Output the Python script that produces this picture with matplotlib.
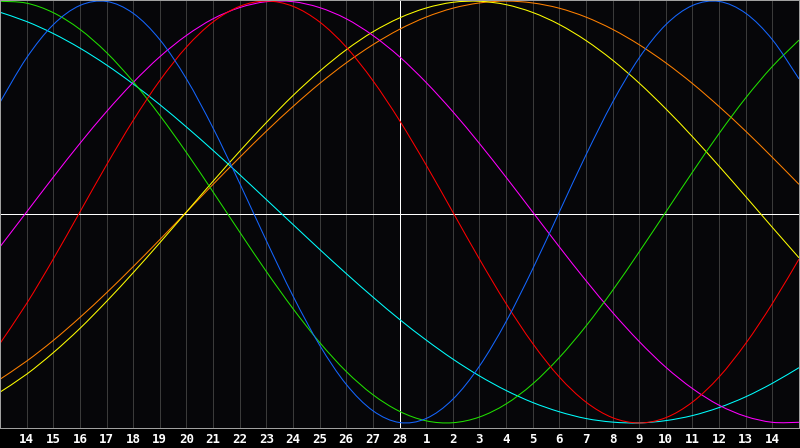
import matplotlib
matplotlib.use("Agg")
import matplotlib.pyplot as plt
from matplotlib.path import Path
from matplotlib.patches import PathPatch

# day labels along the bottom (positions 1..29, 28 is the centre day)
day_labels = [str(d) for d in range(14, 29)] + [str(d) for d in range(1, 15)]

# cycle values, one per day column (31 columns, edge to edge)
physical = [0.520, 0.731, 0.888, 0.979, 0.998, 0.942, 0.817, 0.631, 0.398, 0.136, -0.136, -0.398, -0.631, -0.817, -0.942, -0.998,
            -0.979, -0.888, -0.731, -0.520, -0.270, 0.0, 0.270, 0.520, 0.731, 0.888, 0.979, 0.998, 0.942, 0.817, 0.631]
emotional = [-0.623, -0.434, -0.223, 0.0, 0.223, 0.434, 0.623, 0.782, 0.901, 0.975, 1.0, 0.975, 0.901, 0.782, 0.623, 0.434,
             0.223, 0.0, -0.223, -0.434, -0.623, -0.782, -0.901, -0.975, -1.0, -0.975, -0.901, -0.782, -0.623, -0.434, -0.223]
intellectual = [0.999, 0.990, 0.945, 0.866, 0.756, 0.618, 0.458, 0.282, 0.095, -0.095, -0.282, -0.458, -0.618, -0.756, -0.866, -0.945,
                -0.990, -0.999, -0.972, -0.910, -0.815, -0.690, -0.541, -0.372, -0.189, 0.0, 0.189, 0.372, 0.541, 0.690, 0.815]
intuitive = [-0.165, 0.0, 0.165, 0.325, 0.476, 0.614, 0.736, 0.837, 0.916, 0.969, 0.997, 0.997, 0.969, 0.916, 0.837, 0.736,
             0.614, 0.476, 0.325, 0.165, 0.0, -0.165, -0.325, -0.476, -0.614, -0.736, -0.837, -0.916, -0.969, -0.997, -0.997]
aesthetic = [-0.854, -0.769, -0.667, -0.552, -0.424, -0.288, -0.146, 0.0, 0.146, 0.288, 0.424, 0.552, 0.667, 0.769, 0.854, 0.920,
             0.967, 0.994, 0.999, 0.983, 0.946, 0.889, 0.813, 0.720, 0.611, 0.489, 0.357, 0.217, 0.073, -0.073, -0.217]
awareness = [-0.793, -0.707, -0.609, -0.500, -0.383, -0.259, -0.131, 0.0, 0.131, 0.259, 0.383, 0.500, 0.609, 0.707, 0.793, 0.866,
             0.924, 0.966, 0.991, 1.0, 0.991, 0.966, 0.924, 0.866, 0.793, 0.707, 0.609, 0.500, 0.383, 0.259, 0.131]
spiritual = [0.947, 0.903, 0.846, 0.777, 0.697, 0.607, 0.509, 0.403, 0.292, 0.177, 0.059, -0.059, -0.177, -0.292, -0.403, -0.509,
             -0.607, -0.697, -0.777, -0.846, -0.903, -0.947, -0.979, -0.996, -1.0, -0.989, -0.965, -0.927, -0.876, -0.812, -0.738]

series = [
    (awareness, '#ff8000'),
    (aesthetic, '#ffff00'),
    (spiritual, '#00ffff'),
    (intuitive, '#ff00ff'),
    (intellectual, '#20e000'),
    (emotional, '#ff0000'),
    (physical, '#1466ff'),
]


def smooth_path(xs, ys):
    # pass through every point, catmull-rom style control points for a bezier path
    verts = [(xs[0], ys[0])]
    codes = [Path.MOVETO]
    n = len(xs)
    for i in range(n - 1):
        x0, y0 = (xs[i - 1], ys[i - 1]) if i > 0 else (xs[i], ys[i])
        x1, y1 = xs[i], ys[i]
        x2, y2 = xs[i + 1], ys[i + 1]
        x3, y3 = (xs[i + 2], ys[i + 2]) if i + 2 < n else (x2, y2)
        verts += [(x1 + (x2 - x0) / 6, y1 + (y2 - y0) / 6),
                  (x2 - (x3 - x1) / 6, y2 - (y3 - y1) / 6),
                  (x2, y2)]
        codes += [Path.CURVE4] * 3
    return Path(verts, codes)


fig = plt.figure(figsize=(8, 4.48), dpi=100, facecolor='black')
ax = fig.add_axes([0.0, 20 / 448, 799 / 800, 428 / 448])
ax.set_facecolor('#060609')

cols = list(range(len(physical)))
ax.set_xlim(0, cols[-1])
ax.set_ylim(-1.024, 1.005)

# day grid, centre day in white
for k in range(1, len(day_labels) + 1):
    c = 'white' if day_labels[k - 1] == '28' else '#3a3a3a'
    ax.axvline(k, color=c, lw=0.72, antialiased=False, zorder=1)
ax.axhline(-0.009, color='white', lw=0.72, antialiased=False, zorder=1)

for vals, col in series:
    ax.add_patch(PathPatch(smooth_path(cols, vals), facecolor='none', edgecolor=col,
                           lw=0.75, antialiased=True, zorder=2))

ax.set_xticks(range(1, len(day_labels) + 1))
ax.set_xticklabels(day_labels, color='white', fontsize=9, fontweight='bold', family='DejaVu Sans Mono')
ax.tick_params(axis='x', length=0, pad=3.5)
ax.set_yticks([])
for s in ax.spines.values():
    s.set_color('#a0a0a0')
    s.set_linewidth(0.72)

fig.savefig('out.png', facecolor='black')
